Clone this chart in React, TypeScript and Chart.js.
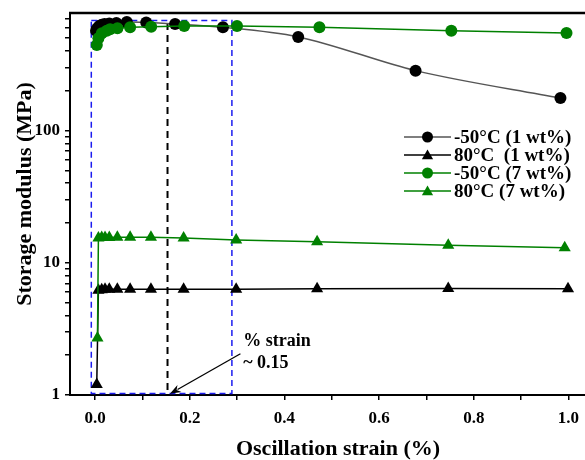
import React, { useEffect, useRef } from 'react';
import { Chart, registerables } from 'chart.js';

Chart.register(...registerables);

// ---------- data ----------
const strainCold1 = [0.002, 0.004, 0.007, 0.01, 0.014, 0.02, 0.03, 0.045, 0.067, 0.108, 0.169, 0.27, 0.429, 0.677, 0.983];
const modulusCold1 = [570, 590, 608, 622, 632, 640, 645, 650, 662, 657, 640, 604, 511, 284, 176];

const strainHot1 = [0.0035, 0.007, 0.014, 0.021, 0.03, 0.047, 0.074, 0.118, 0.187, 0.298, 0.469, 0.746, 0.999];
const modulusHot1 = [1.2, 6.2, 6.25, 6.3, 6.3, 6.3, 6.3, 6.3, 6.3, 6.3, 6.35, 6.4, 6.35];

const strainCold7 = [0.0036, 0.007, 0.0142, 0.0247, 0.0317, 0.0472, 0.074, 0.1185, 0.1883, 0.2998, 0.4739, 0.7525, 0.9958];
const modulusCold7 = [444, 499, 544, 570, 584, 594, 604, 611, 618, 618, 604, 570, 547];

const strainHot7 = [0.005, 0.007, 0.014, 0.021, 0.03, 0.047, 0.074, 0.118, 0.187, 0.298, 0.469, 0.746, 0.992];
const modulusHot7 = [2.7, 15.4, 15.5, 15.5, 15.5, 15.6, 15.6, 15.6, 15.4, 14.9, 14.4, 13.6, 13.0];

const seriesLabels = ['-50°C (1 wt%)', '80°C  (1 wt%)', '-50°C (7 wt%)', '80°C (7 wt%)'];

const xTickValues = [0, 0.1, 0.2, 0.3, 0.4, 0.5, 0.6, 0.7, 0.8, 0.9, 1.0];
const xLabeledTicks = [0, 0.2, 0.4, 0.6, 0.8, 1.0];
const yTickValues = [1, 2, 3, 4, 5, 6, 7, 8, 9, 10, 20, 30, 40, 50, 60, 70, 80, 90, 100, 200, 300, 400, 500, 600, 700];
const yLabeledTicks = [1, 10, 100];

const xRange = [-0.053, 1.037];
const yRange = [1, 775];

// annotation values (data coordinates)
const boxStrain = [-0.008, 0.289];
const boxModulus = [1, 680];
const markerStrain = 0.153;
const markerModulus = [1, 650];
const arrowFrom = [0.307, 2.05];
const arrowTo = [0.158, 1.02];
const noteAnchor = [0.313, 2.35];
const noteLines = ['% strain', '~ 0.15'];

const xTitle = 'Oscillation strain (%)';
const yTitle = 'Storage modulus (MPa)';

// ---------- styles ----------
const FONT = '"Liberation Serif", "Times New Roman", serif';
const GREEN = '#008000';
const GREY = '#555555';
const BLACK = '#000000';
const BLUE = '#1c1cf0';
const VIEW_W = 585;
const VIEW_H = 460;
const EXTRA_RIGHT = 8; // hidden strip compensating Chart.js' last-label padding

function drawMarker(ctx: CanvasRenderingContext2D, shape: string, x: number, y: number, r: number, color: string) {
  ctx.fillStyle = color;
  ctx.beginPath();
  if (shape === 'circle') {
    ctx.arc(x, y, r, 0, Math.PI * 2);
  } else {
    let rad = 0;
    ctx.moveTo(x + Math.sin(rad) * r, y - Math.cos(rad) * r);
    rad += (2 * Math.PI) / 3;
    ctx.lineTo(x + Math.sin(rad) * r, y - Math.cos(rad) * r);
    rad += (2 * Math.PI) / 3;
    ctx.lineTo(x + Math.sin(rad) * r, y - Math.cos(rad) * r);
    ctx.closePath();
  }
  ctx.fill();
}

const legendItems = [
  { line: GREY, marker: BLACK, shape: 'circle' },
  { line: BLACK, marker: BLACK, shape: 'triangle' },
  { line: GREEN, marker: GREEN, shape: 'circle' },
  { line: GREEN, marker: GREEN, shape: 'triangle' },
];

const decorPlugin = {
  id: 'decor',
  beforeDatasetsDraw(chart: any) {
    const { ctx } = chart;
    const x = chart.scales.x;
    const y = chart.scales.y;
    ctx.save();
    // blue dashed box
    ctx.strokeStyle = BLUE;
    ctx.lineWidth = 1.5;
    ctx.setLineDash([6, 4]);
    const l = x.getPixelForValue(boxStrain[0]);
    const r = x.getPixelForValue(boxStrain[1]);
    const t = y.getPixelForValue(boxModulus[1]);
    const b = y.getPixelForValue(boxModulus[0]) - 1.5;
    ctx.strokeRect(l, t, r - l, b - t);
    // black dashed marker line
    ctx.strokeStyle = BLACK;
    ctx.lineWidth = 2;
    ctx.setLineDash([7, 5]);
    const mx = x.getPixelForValue(markerStrain);
    ctx.beginPath();
    ctx.moveTo(mx, y.getPixelForValue(markerModulus[1]));
    ctx.lineTo(mx, y.getPixelForValue(markerModulus[0]));
    ctx.stroke();
    ctx.restore();
  },
  afterDraw(chart: any) {
    const { ctx, chartArea } = chart;
    const x = chart.scales.x;
    const y = chart.scales.y;
    ctx.save();
    // top frame line
    ctx.strokeStyle = BLACK;
    ctx.lineWidth = 2.5;
    ctx.beginPath();
    ctx.moveTo(chartArea.left - 1, chartArea.top);
    ctx.lineTo(chartArea.right, chartArea.top);
    ctx.stroke();

    // arrow
    const ax0 = x.getPixelForValue(arrowFrom[0]);
    const ay0 = y.getPixelForValue(arrowFrom[1]);
    const ax1 = x.getPixelForValue(arrowTo[0]);
    const ay1 = y.getPixelForValue(arrowTo[1]);
    const ang = Math.atan2(ay1 - ay0, ax1 - ax0);
    const headLen = 11;
    const headW = 4;
    ctx.lineWidth = 1.3;
    ctx.beginPath();
    ctx.moveTo(ax0, ay0);
    ctx.lineTo(ax1 - Math.cos(ang) * headLen * 0.8, ay1 - Math.sin(ang) * headLen * 0.8);
    ctx.stroke();
    ctx.fillStyle = BLACK;
    ctx.beginPath();
    ctx.moveTo(ax1, ay1);
    ctx.lineTo(ax1 - Math.cos(ang) * headLen - Math.sin(ang) * headW, ay1 - Math.sin(ang) * headLen + Math.cos(ang) * headW);
    ctx.lineTo(ax1 - Math.cos(ang) * headLen * 0.7, ay1 - Math.sin(ang) * headLen * 0.7);
    ctx.lineTo(ax1 - Math.cos(ang) * headLen + Math.sin(ang) * headW, ay1 - Math.sin(ang) * headLen - Math.cos(ang) * headW);
    ctx.closePath();
    ctx.fill();

    // annotation text
    ctx.font = `bold 18px ${FONT}`;
    ctx.textAlign = 'left';
    ctx.textBaseline = 'alphabetic';
    const nx = x.getPixelForValue(noteAnchor[0]);
    const ny = y.getPixelForValue(noteAnchor[1]);
    ctx.fillText(noteLines[0], nx, ny);
    ctx.fillText(noteLines[1], nx, ny + 22);

    // legend
    const lx0 = chartArea.right - 182;
    const lineLen = 47;
    const rowY0 = 137;
    const rowGap = 18;
    ctx.font = `bold 19px ${FONT}`;
    ctx.textBaseline = 'middle';
    legendItems.forEach((it, i) => {
      const ry = rowY0 + i * rowGap;
      ctx.strokeStyle = it.line;
      ctx.lineWidth = 1.5;
      ctx.beginPath();
      ctx.moveTo(lx0, ry);
      ctx.lineTo(lx0 + lineLen, ry);
      ctx.stroke();
      drawMarker(ctx, it.shape, lx0 + lineLen / 2, ry + (it.shape === 'triangle' ? 1 : 0), it.shape === 'triangle' ? 6.5 : 5.5, it.marker);
      ctx.fillStyle = BLACK;
      ctx.fillText(seriesLabels[i], lx0 + lineLen + 3, ry + 1);
    });

    // axis titles
    ctx.font = `bold 22px ${FONT}`;
    ctx.textAlign = 'center';
    ctx.textBaseline = 'middle';
    ctx.fillStyle = BLACK;
    ctx.fillText(xTitle, (chartArea.left + chartArea.right) / 2 + 10, 449);
    ctx.translate(25, (chartArea.top + chartArea.bottom) / 2 - 10);
    ctx.rotate(-Math.PI / 2);
    ctx.fillText(yTitle, 0, 0);
    ctx.restore();
  },
};

function toPoints(xs: number[], ys: number[]) {
  return xs.map((v, i) => ({ x: v, y: ys[i] }));
}

export default function App() {
  const canvasRef = useRef<HTMLCanvasElement | null>(null);

  useEffect(() => {
    document.body.style.margin = '0';
    const canvas = canvasRef.current;
    if (!canvas) return;
    const tickFont = { family: FONT, size: 17, weight: 'bold' as const };
    const chart = new Chart(canvas, {
      type: 'line',
      data: {
        datasets: [
          {
            label: seriesLabels[0],
            data: toPoints(strainCold1, modulusCold1),
            borderColor: GREY,
            backgroundColor: BLACK,
            pointBackgroundColor: BLACK,
            pointBorderColor: BLACK,
            pointRadius: 6,
            pointBorderWidth: 0,
            pointStyle: 'circle',
            borderWidth: 1.5,
            cubicInterpolationMode: 'monotone',
            order: 1,
          },
          {
            label: seriesLabels[1],
            data: toPoints(strainHot1, modulusHot1),
            borderColor: BLACK,
            backgroundColor: BLACK,
            pointBackgroundColor: BLACK,
            pointBorderColor: BLACK,
            pointRadius: 7,
            pointBorderWidth: 0,
            pointStyle: 'triangle',
            borderWidth: 1.5,
            order: 3,
          },
          {
            label: seriesLabels[2],
            data: toPoints(strainCold7, modulusCold7),
            borderColor: GREEN,
            backgroundColor: GREEN,
            pointBackgroundColor: GREEN,
            pointBorderColor: GREEN,
            pointRadius: 6,
            pointBorderWidth: 0,
            pointStyle: 'circle',
            borderWidth: 1.5,
            order: 0,
          },
          {
            label: seriesLabels[3],
            data: toPoints(strainHot7, modulusHot7),
            borderColor: GREEN,
            backgroundColor: GREEN,
            pointBackgroundColor: GREEN,
            pointBorderColor: GREEN,
            pointRadius: 7,
            pointBorderWidth: 0,
            pointStyle: 'triangle',
            borderWidth: 1.5,
            order: 2,
          },
        ],
      },
      options: {
        animation: false,
        responsive: false,
        maintainAspectRatio: false,
        layout: { padding: { top: 13, right: 0, left: 0, bottom: 0 } },
        plugins: {
          legend: { display: false },
          tooltip: { enabled: false },
        },
        scales: {
          x: {
            type: 'linear',
            min: xRange[0],
            max: xRange[1],
            afterBuildTicks: (s: any) => {
              s.ticks = xTickValues.map((v) => ({ value: v }));
            },
            afterFit: (s: any) => {
              s.height = 65;
              s.paddingLeft = 0;
              s.paddingRight = 0;
            },
            ticks: {
              autoSkip: false,
              maxRotation: 0,
              padding: 8,
              color: BLACK,
              font: tickFont,
              callback: (v: any) => (xLabeledTicks.some((t) => Math.abs(t - Number(v)) < 1e-9) ? Number(v).toFixed(1) : ''),
            },
            grid: { drawOnChartArea: false, drawTicks: true, tickLength: 5, color: BLACK, lineWidth: 1.5 },
            border: { display: true, color: BLACK, width: 2 },
          },
          y: {
            type: 'logarithmic',
            min: yRange[0],
            max: yRange[1],
            afterBuildTicks: (s: any) => {
              s.ticks = yTickValues.map((v) => ({ value: v }));
            },
            afterFit: (s: any) => {
              s.width = 70;
              s.paddingTop = 0;
              s.paddingBottom = 0;
            },
            ticks: {
              autoSkip: false,
              padding: 5,
              color: BLACK,
              font: tickFont,
              callback: (v: any) => (yLabeledTicks.includes(Number(v)) ? String(v) : ''),
            },
            grid: { drawOnChartArea: false, drawTicks: true, tickLength: 5, color: BLACK, lineWidth: 1.5 },
            border: { display: true, color: BLACK, width: 2 },
          },
        },
      },
      plugins: [decorPlugin],
    } as any);
    return () => chart.destroy();
  }, []);

  return (
    <div style={{ width: VIEW_W, height: VIEW_H, overflow: 'hidden' }}>
      <canvas ref={canvasRef} width={VIEW_W + EXTRA_RIGHT} height={VIEW_H} style={{ display: 'block' }} />
    </div>
  );
}
